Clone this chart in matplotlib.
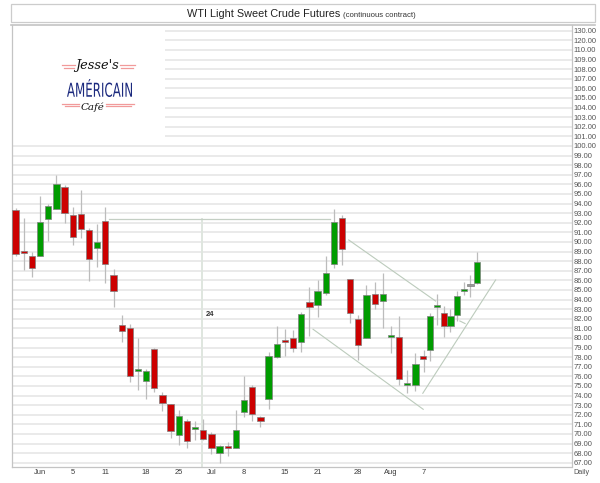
import numpy as np
import matplotlib
matplotlib.use('Agg')
import matplotlib.pyplot as plt
from matplotlib.lines import Line2D
from matplotlib.patches import Rectangle, PathPatch
from matplotlib.textpath import TextPath
from matplotlib.font_manager import FontProperties
from matplotlib.transforms import Affine2D, IdentityTransform

plt.rcParams['font.family'] = ['Liberation Sans', 'DejaVu Sans']

# daily OHLC (one row per trading day)
opens  = [93.3, 89.1, 88.5, 88.5, 92.4, 93.4, 95.7, 92.8, 92.95, 91.25,
          89.4, 92.2, 86.55, 81.35, 81.0, 76.6, 75.5, 78.9, 74.05, 73.1,
          69.9, 71.4, 70.5, 70.4, 69.95, 68.0, 68.65, 68.55, 72.3, 74.9,
          71.8, 73.65, 78.0, 79.7, 79.95, 79.55, 83.75, 83.45, 84.65, 87.7,
          92.5, 86.1, 81.95, 80.0, 84.6, 83.9, 80.1, 80.1, 75.1, 75.1,
          78.15, 78.75, 83.25, 82.65, 81.25, 82.4, 84.85, 85.4, 85.7]
highs  = [93.5, 92.5, 89.0, 94.8, 94.0, 97.0, 95.9, 93.6, 95.4, 91.5,
          91.9, 93.6, 87.2, 82.4, 81.5, 80.0, 76.8, 79.0, 74.4, 73.1,
          72.5, 71.6, 71.3, 71.55, 70.25, 68.8, 69.2, 72.5, 76.05, 75.1,
          71.85, 78.55, 81.25, 80.9, 80.85, 82.75, 85.35, 86.05, 88.55, 93.4,
          92.8, 86.1, 82.4, 85.5, 85.85, 86.8, 81.25, 82.3, 76.65, 78.45,
          78.75, 82.55, 84.55, 83.35, 83.0, 84.85, 85.8, 86.55, 89.0]
lows   = [88.5, 87.1, 86.3, 88.5, 90.1, 93.4, 92.0, 89.65, 90.4, 85.9,
          87.4, 85.7, 83.2, 79.6, 75.45, 74.6, 73.6, 74.4, 72.4, 69.6,
          68.85, 68.5, 69.4, 69.4, 67.9, 67.0, 67.75, 68.55, 71.75, 71.4,
          70.75, 72.55, 77.9, 78.1, 78.55, 78.55, 80.25, 82.2, 84.5, 87.25,
          87.6, 81.6, 77.7, 80.0, 83.0, 81.05, 78.4, 75.1, 74.25, 74.5,
          76.5, 77.6, 81.35, 80.15, 80.6, 81.8, 84.5, 84.3, 85.6]
closes = [88.7, 88.9, 87.3, 92.1, 93.75, 96.0, 93.0, 90.55, 91.3, 88.2,
          90.0, 87.7, 84.9, 80.75, 76.05, 76.8, 76.55, 74.8, 73.2, 70.35,
          71.9, 69.25, 70.75, 69.5, 68.55, 68.7, 68.5, 70.4, 73.55, 72.1,
          71.4, 78.1, 79.35, 79.6, 78.95, 82.45, 83.2, 84.85, 86.75, 92.1,
          89.3, 82.55, 79.25, 84.45, 83.55, 84.6, 80.3, 75.75, 75.2, 77.25,
          77.8, 82.3, 83.45, 81.25, 82.3, 84.4, 85.15, 85.4, 87.9]

date_ticks  = [3, 7, 11, 16, 20, 24, 28, 33, 37, 42, 46, 50]
date_labels = ['Jun', '5', '11', '18', '25', 'Jul', '8', '15', '21', '28', 'Aug', '7']

price_ticks = list(range(67, 111))
top_labels = ['120.00', '130.00']      # squeezed in above 110 on the original axis

# drawn annotations: (bar index, price) pairs
level_line = ([11.46, 38.58], [92.36, 92.36])
count_line = ([22.83, 22.83], [92.36, 66.56])
count_text = (23.36, 82.43, '24')
trend_lines = [([40.82, 51.78], [90.21, 83.85]),
               ([36.45, 49.95], [80.91, 72.57]),
               ([49.9, 60.76], [74.24, 86.04]),
               ([55.41, 56.2], [81.77, 81.5])]

# bars after index 50 are drawn closer together on the original
def fwd(x):
    x = np.asarray(x, dtype=float)
    return np.where(x <= 50, x, 50 + (x - 50) * 0.82)

def inv(x):
    x = np.asarray(x, dtype=float)
    return np.where(x <= 50, x, 50 + (x - 50) / 0.82)

W, H = 600, 483
fig = plt.figure(figsize=(W / 100, H / 100), dpi=100)
ax = fig.add_axes([12 / W, (H - 467) / H, (571.5 - 12) / W, (467 - 25) / H])
ax.set_xscale('function', functions=(fwd, inv))
ax.set_xlim(-0.44, 72.1)
ax.set_ylim(66.56, 112.6)

o = np.array(opens); c = np.array(closes)
hi = np.array(highs); lo = np.array(lows)
idx = np.arange(len(o))
cols = np.where(c > o, '#009c00', np.where(c < o, '#cc0000', '#999999'))
body = np.maximum(np.abs(c - o), 0.2)
widths = np.where(idx > 50, 0.95, 0.77)

ax.vlines(idx, lo, hi, color='#bcbcbc', lw=0.9, zorder=2)
ax.bar(idx, body, bottom=np.minimum(o, c), width=widths, color=cols,
       edgecolor='#808080', lw=0.5, zorder=3)

lc = '#bccbbc'
ax.plot(*level_line, color='#c4cfc4', lw=0.9, zorder=2)
ax.plot(*count_line, color='#dfe6df', lw=1.4, zorder=1.5)
ax.text(count_text[0], count_text[1], count_text[2], fontsize=5.5,
        color='#333333', va='center', ha='left', fontweight='bold')
for xs, ys in trend_lines:
    ax.plot(xs, ys, color=lc, lw=0.8, zorder=2)

ax.yaxis.tick_right()
ax.set_yticks(price_ticks + [111, 112])
ax.set_yticklabels(['%.2f' % v for v in price_ticks] + top_labels)
ax.set_xticks(date_ticks)
ax.set_xticklabels(date_labels)
ax.xaxis.set_minor_locator(matplotlib.ticker.NullLocator())
ax.tick_params(axis='y', length=0, pad=1.2, labelsize=5.5, labelcolor='#555555')
ax.tick_params(axis='x', length=0, pad=1.8, labelsize=5.4, labelcolor='#3a3a3a')
ax.set_axisbelow(True)
ax.grid(axis='y', color='#e8e8e8', lw=1.3)
ax.grid(axis='x', visible=False)
for side in ['left', 'bottom', 'right']:
    ax.spines[side].set_color('#c4c4c4')
    ax.spines[side].set_linewidth(0.9)
ax.spines['top'].set_visible(False)

# white logo panel top-left
ax.add_patch(Rectangle((0, 1 - 115 / 442), (165 - 12) / 559.5, 115 / 442,
                       transform=ax.transAxes, facecolor='white',
                       edgecolor='none', zorder=1))

def px(x, y):
    return x / W, 1 - y / H

# title box and frame top
fig.add_artist(Rectangle(px(11, 22), 584 / W, 18.5 / H, transform=fig.transFigure,
                         facecolor='white', edgecolor='#cccccc', lw=0.9))
fig.add_artist(Line2D([11 / W, 595 / W], [1 - 25 / H, 1 - 25 / H],
                      transform=fig.transFigure, color='#c4c4c4', lw=1.2))
fig.text(*px(187, 17), 'WTI Light Sweet Crude Futures', fontsize=7.8,
         color='#222222', va='baseline', ha='left')
fig.text(*px(343, 17), '(continuous contract)', fontsize=5.6,
         color='#333333', va='baseline', ha='left')
fig.text(*px(573, 473), 'Daily', fontsize=5.2, color='#555555',
         va='center', ha='left')

# logo
fig.text(*px(97, 66), "Jesse's", fontsize=9.3, family='DejaVu Serif',
         style='italic', color='#111111', ha='center', va='center')
fig.text(*px(92.5, 107), 'Café', fontsize=7.4, family='DejaVu Serif',
         style='italic', color='#111111', ha='center', va='center')
tp = TextPath((0, 0), 'AMÉRICAIN', size=20,
              prop=FontProperties(family='DejaVu Sans'))
bb = tp.get_extents()
sx = (132 - 67) / bb.width
sy = (97 - 79) / bb.height
tr = Affine2D().translate(-bb.x0, -bb.y0).scale(sx, sy).translate(67, H - 97)
fig.add_artist(PathPatch(tr.transform_path(tp), facecolor='#1c2a7e',
                         edgecolor='none', transform=IdentityTransform()))
pink = '#f19a9a'
for x0, x1, y in [(62, 75, 65), (64, 74, 67.5), (120, 135, 65), (121, 133, 67.5),
                  (62, 79, 103.5), (65, 79, 106), (106, 134, 103.5), (106, 131, 106)]:
    fig.add_artist(Line2D([x0 / W, x1 / W], [1 - y / H, 1 - y / H],
                          transform=fig.transFigure, color=pink, lw=0.9))

fig.savefig('out.png', dpi=100)
